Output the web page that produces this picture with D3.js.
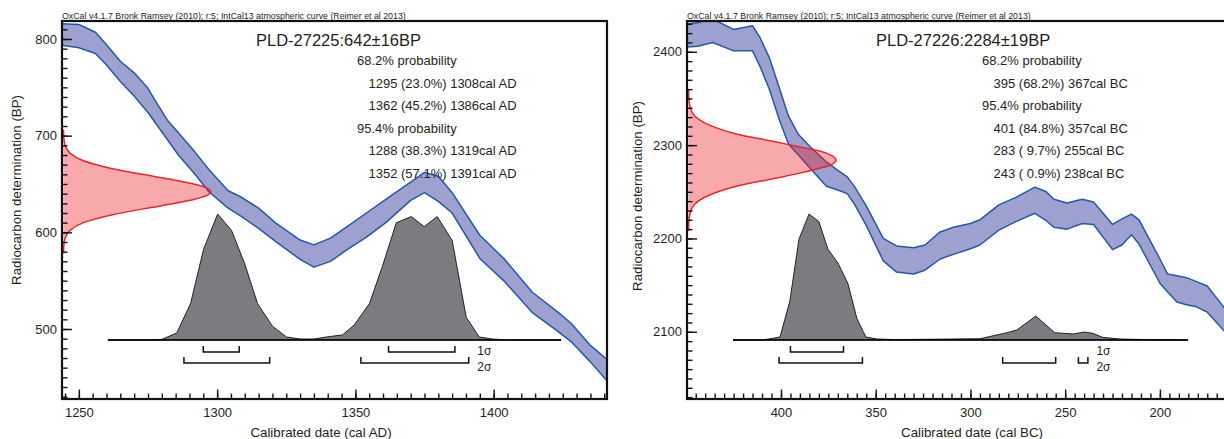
<!DOCTYPE html>
<html><head><meta charset="utf-8">
<script src="https://cdn.jsdelivr.net/npm/d3@7"></script>
<style>
body{margin:0;background:#fff}
svg{display:block}
text{font-family:"Liberation Sans",Arial,Helvetica,sans-serif;fill:#231f20}
</style>
</head><body>
<svg id="chart" width="1224" height="439"></svg>
<script>
// ===== Common text =====
const headerText = "OxCal v4.1.7 Bronk Ramsey (2010); r:5; IntCal13 atmospheric curve (Reimer et al 2013)";
const yAxisTitle = "Radiocarbon determination (BP)";

// ===== Panel A : PLD-27225 (cal AD) =====
const titleA = "PLD-27225:642±16BP";
const xTitleA = "Calibrated date (cal AD)";
const rangeTextA = ["68.2% probability", "1295 (23.0%) 1308cal AD", "1362 (45.2%) 1386cal AD",
                    "95.4% probability", "1288 (38.3%) 1319cal AD", "1352 (57.1%) 1391cal AD"];
const rangeIndentA = [false, true, true, false, true, true];
const xTicksA = [1250, 1300, 1350, 1400];
const yTicksA = [500, 600, 700, 800];
const calA   = [1243,1250,1256,1260,1265,1270,1275,1277,1282,1286,1292,1297,1304,1309,1315,1321,1330,1335,1341,1347,1354,1361,1370,1375,1380,1385,1395,1404,1414,1423,1428,1435,1442];
const upperA = [816,815,807,794,777,765,749,739,716,703,683,665,643,636,625,610,592,587,594,606,620,634,652,662,658,641,597,572,538,518,506,483,466];
const lowerA = [794,791,785,773,756,741,724,716,696,680,660,642,625,616,604,591,572,564,570,582,595,610,633,641,632,620,573,549,517,498,487,466,443];
const probCalA = [1260.5,1275,1280,1285.4,1290.4,1295.1,1300.2,1305.2,1309.9,1314.6,1320,1325.1,1330,1335,1339.5,1345.3,1349.6,1355.1,1359.7,1364.8,1370.2,1374.9,1379.6,1385,1390.1,1394.8,1399.5,1405,1424.4];
const probValA = [0,0,0.005,0.056,0.29,0.72,1.0,0.87,0.61,0.29,0.11,0.024,0.008,0.008,0.024,0.04,0.12,0.29,0.58,0.93,0.98,0.90,0.98,0.79,0.18,0.024,0.008,0,0];
const dateBpA   = [578,586,594,602,610,618,626,630,634,638,642,646,650,654,658,666,674,682,690,698,706];
const dateDensA = [0.0003,0.002,0.011,0.044,0.135,0.325,0.607,0.755,0.883,0.969,1,0.969,0.883,0.755,0.607,0.325,0.135,0.044,0.011,0.002,0.0003];
const sigma1A = [[1295,1308],[1362,1386]];
const sigma2A = [[1288,1319],[1352,1391]];

// ===== Panel B : PLD-27226 (cal BC) =====
const titleB = "PLD-27226:2284±19BP";
const xTitleB = "Calibrated date (cal BC)";
const rangeTextB = ["68.2% probability", "395 (68.2%) 367cal BC", "95.4% probability",
                    "401 (84.8%) 357cal BC", "283 ( 9.7%) 255cal BC", "243 ( 0.9%) 238cal BC"];
const rangeIndentB = [false, true, false, true, true, true];
const xTicksB = [400, 350, 300, 250, 200];
const yTicksB = [2100, 2200, 2300, 2400];
const calB   = [450,444,436,425,415,411,406,401,396,391,385,376,370,365,361,355,346,339,330,324,316,309,300,295,285,276,266,260,256,249,241,235,225,220,215,211,200,196,191,186,181,175,163];
const upperB = [2430,2431,2435,2424,2428,2415,2393,2362,2331,2312,2299,2282,2273,2266,2255,2235,2200,2192,2190,2193,2207,2212,2216,2220,2236,2244,2255,2250,2242,2238,2242,2239,2215,2221,2226,2220,2178,2162,2160,2158,2154,2149,2118];
const lowerB = [2405,2406,2410,2401,2401,2384,2359,2328,2301,2290,2276,2256,2252,2248,2236,2214,2176,2164,2162,2166,2178,2183,2189,2193,2209,2218,2227,2219,2212,2210,2216,2215,2188,2193,2204,2194,2152,2143,2132,2129,2127,2121,2094];
const probCalB = [425.3,410,405.8,400.5,395.3,390.5,385.2,380,375.2,369.9,364.7,359.9,355.2,349.4,340,295,280.7,275.5,265.5,255.5,246,239.7,235.4,230.2,221.2,210,185.2];
const probValB = [0,0,0.01,0.024,0.31,0.80,1.0,0.94,0.72,0.61,0.45,0.17,0.024,0.008,0.003,0.01,0.058,0.08,0.19,0.058,0.048,0.063,0.053,0.021,0.008,0.004,0];
const dateBpB   = [2208,2218,2227,2237,2246,2256,2265,2270,2275,2279,2284,2289,2294,2298,2303,2312,2322,2331,2341,2351,2360];
const dateDensB = [0.0003,0.002,0.011,0.044,0.135,0.325,0.607,0.755,0.883,0.969,1,0.969,0.883,0.755,0.607,0.325,0.135,0.044,0.011,0.002,0.0003];
const sigma1B = [[395,367]];
const sigma2B = [[401,357],[283,255],[243,238]];

// ===== Layout =====
const panels = [
  {id:"A", left:62, right:607, top:21, bottom:399, xDomain:[1243.9,1441], yDomain:[427.6,818.6],
   title:titleA, xTitle:xTitleA, texts:rangeTextA, indents:rangeIndentA, xTicks:xTicksA, yTicks:yTicksA,
   cal:calA, upper:upperA, lower:lowerA, probCal:probCalA, probVal:probValA, dateBp:dateBpA, dateDens:dateDensA,
   s1:sigma1A, s2:sigma2A, titleX:256, textX:357, xTitleX:321, yTitleX:16, yTitleY:190, minorStep:5},
  {id:"B", left:687, right:1230, top:21, bottom:399, xDomain:[449.6,163], yDomain:[2028,2433],
   title:titleB, xTitle:xTitleB, texts:rangeTextB, indents:rangeIndentB, xTicks:xTicksB, yTicks:yTicksB,
   cal:calB, upper:upperB, lower:lowerB, probCal:probCalB, probVal:probValB, dateBp:dateBpB, dateDens:dateDensB,
   s1:sigma1B, s2:sigma2B, titleX:876, textX:982, xTitleX:972, yTitleX:637, yTitleY:196, minorStep:5}
];

const svg = d3.select("#chart");
const defs = svg.append("defs");

panels.forEach(p => {
  const x = d3.scaleLinear().domain(p.xDomain).range([p.left, p.right]);
  const y = d3.scaleLinear().domain(p.yDomain).range([p.bottom, p.top]);
  const g = svg.append("g");

  defs.append("clipPath").attr("id", "clip" + p.id)
    .append("rect").attr("x", p.left).attr("y", p.top)
    .attr("width", p.right - p.left).attr("height", p.bottom - p.top);
  const plot = g.append("g").attr("clip-path", `url(#clip${p.id})`);

  // calibration curve band
  const band = p.cal.map((c, i) => ({c, u: p.upper[i], l: p.lower[i]}));
  plot.append("path").datum(band)
    .attr("d", d3.area().x(d => x(d.c)).y0(d => y(d.l)).y1(d => y(d.u)))
    .attr("fill", "rgba(40,50,150,0.46)");
  ["u", "l"].forEach(k => {
    plot.append("path").datum(band)
      .attr("d", d3.line().x(d => x(d.c)).y(d => y(d[k])))
      .attr("fill", "none").attr("stroke", "#2757a6").attr("stroke-width", 1.5)
      .attr("stroke-linejoin", "round");
  });

  // radiocarbon date distribution (red)
  const red = p.dateBp.map((b, i) => ({b, v: p.dateDens[i]}));
  const w = d3.scaleLinear().domain([0, 1]).range([p.left + 1.5, p.left + 149]);
  plot.append("path").datum(red)
    .attr("d", d3.area().curve(d3.curveMonotoneY).y(d => y(d.b)).x0(w(0)).x1(d => w(d.v)))
    .attr("fill", "rgba(237,28,36,0.38)");
  plot.append("path").datum(red)
    .attr("d", d3.line().curve(d3.curveMonotoneY).y(d => y(d.b)).x(d => w(d.v)))
    .attr("fill", "none").attr("stroke", "#e8262b").attr("stroke-width", 1.5);

  // calibrated probability distribution (grey)
  const h = d3.scaleLinear().domain([0, 1]).range([340, 214]);
  const prob = p.probCal.map((c, i) => ({c, v: p.probVal[i]}));
  plot.append("path").datum(prob)
    .attr("d", d3.area().x(d => x(d.c)).y0(h(0)).y1(d => h(d.v)))
    .attr("fill", "#7b7c80").attr("stroke", "#111").attr("stroke-width", 0.9)
    .attr("stroke-linejoin", "round");
  plot.append("line")
    .attr("x1", x(p.probCal[0])).attr("x2", x(p.probCal[p.probCal.length - 1]))
    .attr("y1", h(0)).attr("y2", h(0))
    .attr("stroke", "#000").attr("stroke-width", 1.6);

  // sigma brackets
  const bracket = (r, yy) => {
    const a = x(r[0]), b = x(r[1]);
    return `M${a},${yy - 6}V${yy}H${b}V${yy - 6}`;
  };
  p.s1.forEach(r => g.append("path").attr("d", bracket(r, 352))
    .attr("fill", "none").attr("stroke", "#111").attr("stroke-width", 1.5));
  p.s2.forEach(r => g.append("path").attr("d", bracket(r, 363))
    .attr("fill", "none").attr("stroke", "#111").attr("stroke-width", 1.5));
  const labX = d3.max(p.s2.concat(p.s1).flat().map(v => x(v))) + 8.5;
  g.append("text").attr("x", labX).attr("y", 355).attr("font-size", 12).text("1σ");
  g.append("text").attr("x", labX).attr("y", 371).attr("font-size", 12).text("2σ");

  // texts
  g.append("text").attr("x", p.left).attr("y", 18.5).attr("font-size", 8.8).text(headerText);
  g.append("text").attr("x", p.titleX).attr("y", 45.5).attr("font-size", 16.5).text(p.title);
  p.texts.forEach((t, i) => {
    g.append("text").attr("x", p.textX + (p.indents[i] ? 11.5 : 0)).attr("y", 65 + i * 22.6)
      .attr("font-size", 13).style("white-space", "pre").attr("xml:space", "preserve").text(t);
  });

  // axes: minor ticks
  const xs = d3.extent(p.xDomain), ys = d3.extent(p.yDomain);
  const xMinor = d3.range(Math.ceil(xs[0] / p.minorStep) * p.minorStep, xs[1], p.minorStep);
  const yMinor = d3.range(Math.ceil(ys[0] / 10) * 10, ys[1], 10);
  const axB = g.append("g").attr("transform", `translate(0,${p.bottom})`)
    .call(d3.axisBottom(x).tickValues(xMinor).tickSize(-5.5).tickFormat(""));
  const axBM = g.append("g").attr("transform", `translate(0,${p.bottom})`)
    .call(d3.axisBottom(x).tickValues(p.xTicks).tickSize(-9.5).tickPadding(9).tickFormat(d3.format("d")));
  const axL = g.append("g").attr("transform", `translate(${p.left},0)`)
    .call(d3.axisLeft(y).tickValues(yMinor).tickSize(-5.5).tickFormat(""));
  const axLM = g.append("g").attr("transform", `translate(${p.left},0)`)
    .call(d3.axisLeft(y).tickValues(p.yTicks).tickSize(-10).tickPadding(5).tickFormat(d3.format("d")));
  [axB, axBM, axL, axLM].forEach(a => {
    a.select(".domain").remove();
    a.selectAll(".tick line").attr("stroke", "#111").attr("stroke-width", 1.4);
    a.selectAll(".tick text").attr("font-size", 13).attr("fill", "#333")
      .attr("font-family", "'Liberation Sans',Arial,sans-serif");
  });

  // frame
  g.append("rect").attr("x", p.left).attr("y", p.top)
    .attr("width", p.right - p.left).attr("height", p.bottom - p.top)
    .attr("fill", "none").attr("stroke", "#111").attr("stroke-width", 2.2);

  // axis titles
  g.append("text").attr("x", p.xTitleX).attr("y", 437).attr("text-anchor", "middle")
    .attr("font-size", 13.3).attr("fill", "#333").text(p.xTitle);
  g.append("text").attr("transform", `translate(${p.yTitleX + 4.5},${p.yTitleY}) rotate(-90)`)
    .attr("text-anchor", "middle").attr("font-size", 13.3).attr("fill", "#333").text(yAxisTitle);
});
</script>
</body></html>
